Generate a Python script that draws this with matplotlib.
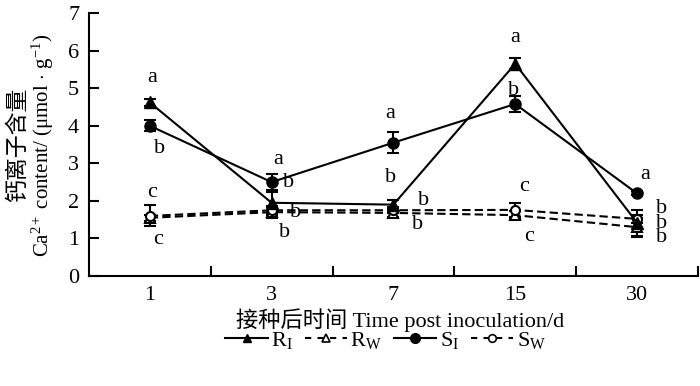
import matplotlib
matplotlib.use("Agg")
import matplotlib.pyplot as plt
from matplotlib.lines import Line2D

plt.rcParams['font.family'] = ['Liberation Serif', 'Noto Sans CJK SC']
plt.rcParams['mathtext.fontset'] = 'custom'
plt.rcParams['mathtext.rm'] = 'Liberation Serif'
plt.rcParams['mathtext.it'] = 'Liberation Serif:italic'
plt.rcParams['mathtext.bf'] = 'Liberation Serif:bold'

# ---- data ----
days = ["1", "3", "7", "15", "30"]
r_i = [4.62, 1.95, 1.90, 5.65, 1.42]
r_i_err = [0.10, 0.28, 0.12, 0.15, 0.35]
r_w = [1.55, 1.70, 1.68, 1.62, 1.30]
r_w_err = [0.08, 0.15, 0.10, 0.10, 0.25]
s_i = [4.00, 2.50, 3.55, 4.58, 2.20]
s_i_err = [0.15, 0.22, 0.28, 0.22, 0.05]
s_w = [1.60, 1.75, 1.75, 1.76, 1.52]
s_w_err = [0.28, 0.12, 0.08, 0.18, 0.10]

letters = [
    ["a", "b", "c", "c"],
    ["a", "b", "b", "b"],
    ["a", "b", "b", "b"],
    ["a", "b", "c", "c"],
    ["a", "b\nb\nb"],
]
# label placement (x offset from category, y in data units)
letter_pos = [
    [(0.02, 5.29), (0.08, 3.40), (0.02, 2.23), (0.07, 0.96)],
    [(0.05, 3.09), (0.14, 2.50), (0.20, 1.68), (0.11, 1.17)],
    [(-0.03, 4.34), (-0.02, 2.61), (0.25, 2.02), (0.20, 1.36)],
    [(0.00, 6.36), (-0.01, 4.95), (0.07, 2.39), (0.11, 1.04)],
    [(0.07, 2.71), (0.20, 1.40)],
]

fs = 16
fig = plt.figure(figsize=(7, 3.86), dpi=100)
ax = fig.add_axes([0.127, 0.285, 0.870, 0.681])

x = list(range(len(days)))
lw = 1.5
dash = (0, (4, 2))
common = dict(color='black', lw=lw, capsize=4.5, elinewidth=1.5, capthick=1.5)

ax.errorbar(x, r_w, yerr=r_w_err, fmt='^', ls=dash, ms=7, mfc='white', mec='black', mew=1.5, **common)
ax.errorbar(x, s_w, yerr=s_w_err, fmt='o', ls=dash, ms=6.5, mfc='white', mec='black', mew=1.5, **common)
ax.errorbar(x, r_i, yerr=r_i_err, fmt='^', ls='-', ms=8, mfc='black', mec='black', **common)
ax.errorbar(x, s_i, yerr=s_i_err, fmt='o', ls='-', ms=8, mfc='black', mec='black', **common)

for i, (labs, poss) in enumerate(zip(letters, letter_pos)):
    for lab, (dx, yy) in zip(labs, poss):
        ax.text(i + dx, yy, lab, ha='center', va='center', fontsize=fs,
                linespacing=0.68, multialignment='center')

ax.set_xlim(-0.5, 4.5)
ax.set_ylim(0, 7)
ax.set_xticks(x)
ax.set_xticklabels(days)
ax.set_xticks([0.5, 1.5, 2.5, 3.5, 4.5], minor=True)
ax.tick_params(axis='x', which='major', length=0, pad=7, labelsize=fs)
ax.tick_params(axis='x', which='minor', direction='in', length=7, width=1.5)
ax.set_yticks(range(0, 8))
ax.tick_params(axis='y', which='major', direction='in', length=7, width=1.5, pad=7, labelsize=fs)
for s in ['top', 'right']:
    ax.spines[s].set_visible(False)
for s in ['left', 'bottom']:
    ax.spines[s].set_linewidth(1.5)

fig.text(0.571, 0.171, "接种后时间 Time post inoculation/d", ha='center', va='center', fontsize=fs)
fig.text(0.026, 0.624, "钙离子含量", rotation=90, ha='center', va='center', fontsize=16.5)
fig.text(0.062, 0.624, r"Ca$^{\mathrm{2+}}$ content/ (μmol$\,\cdot\,$g$^{\mathrm{-1}}$)", rotation=90,
         ha='center', va='center', fontsize=15)

handles = [
    Line2D([], [], color='black', lw=lw, marker='^', ms=6, mfc='black'),
    Line2D([], [], color='black', lw=lw, ls=(0, (3, 3)), marker='^', ms=5.5, mfc='white', mew=1.2),
    Line2D([], [], color='black', lw=lw, marker='o', ms=7, mfc='black'),
    Line2D([], [], color='black', lw=lw, ls=(0, (3, 3)), marker='o', ms=5.5, mfc='white', mew=1.2),
]
labels = [r"R$_{\mathrm{I}}$", r"R$_{\mathrm{W}}$", r"S$_{\mathrm{I}}$", r"S$_{\mathrm{W}}$"]
fig.legend(handles, labels, loc='center', bbox_to_anchor=(0.551, 0.118), ncol=4, frameon=False,
           fontsize=fs, handlelength=1.9, handletextpad=0.15, columnspacing=0.55)

fig.savefig("out.png", dpi=100)
